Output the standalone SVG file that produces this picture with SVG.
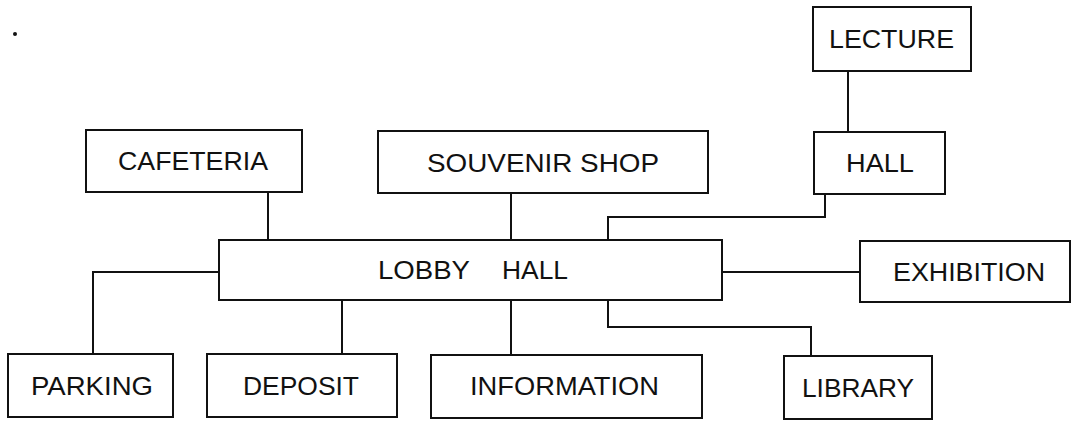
<svg xmlns="http://www.w3.org/2000/svg" width="1072" height="423" viewBox="0 0 1072 423">
  <style>
    .box { fill: #ffffff; stroke: #111111; stroke-width: 2; }
    .lbl { font-family: "Liberation Sans", Arial, sans-serif; font-size: 26px; fill: #111111; text-anchor: middle; }
    .wire { fill: none; stroke: #111111; stroke-width: 2; }
  </style>
  <rect width="1072" height="423" fill="#ffffff"/>
  <circle cx="15" cy="34" r="2" fill="#111111"/>

  <!-- connectors -->
  <g id="connectors">
    <path class="wire" d="M268 192 V240"/>
    <path class="wire" d="M511 193 V240"/>
    <path class="wire" d="M848 71 V132"/>
    <path class="wire" d="M825 194 V217 H608 V240"/>
    <path class="wire" d="M219 272 H93 V354"/>
    <path class="wire" d="M342 300 V354"/>
    <path class="wire" d="M511 300 V355"/>
    <path class="wire" d="M608 300 V327 H811 V356"/>
    <path class="wire" d="M722 272 H860"/>
  </g>

  <g id="lecture">
    <rect class="box" x="813" y="7" width="158" height="64"/>
    <text class="lbl" x="891.5" y="48" textLength="125" lengthAdjust="spacingAndGlyphs">LECTURE</text>
  </g>
  <g id="cafeteria">
    <rect class="box" x="86" y="130" width="216" height="62"/>
    <text class="lbl" x="193" y="170" textLength="150" lengthAdjust="spacingAndGlyphs">CAFETERIA</text>
  </g>
  <g id="souvenir-shop">
    <rect class="box" x="378" y="131" width="330" height="62"/>
    <text class="lbl" x="543" y="172" textLength="232" lengthAdjust="spacingAndGlyphs">SOUVENIR  SHOP</text>
  </g>
  <g id="hall">
    <rect class="box" x="814" y="132" width="131" height="62"/>
    <text class="lbl" x="880" y="172" textLength="68" lengthAdjust="spacingAndGlyphs">HALL</text>
  </g>
  <g id="lobby-hall">
    <rect class="box" x="219" y="240" width="503" height="60"/>
    <text class="lbl" y="279"><tspan x="424" textLength="92" lengthAdjust="spacingAndGlyphs">LOBBY</tspan><tspan x="535" textLength="66" lengthAdjust="spacingAndGlyphs">HALL</tspan></text>
  </g>
  <g id="exhibition">
    <rect class="box" x="860" y="241" width="210" height="61"/>
    <text class="lbl" x="969" y="281" textLength="152" lengthAdjust="spacingAndGlyphs">EXHIBITION</text>
  </g>
  <g id="parking">
    <rect class="box" x="8" y="354" width="165" height="63"/>
    <text class="lbl" x="92" y="395" textLength="122" lengthAdjust="spacingAndGlyphs">PARKING</text>
  </g>
  <g id="deposit">
    <rect class="box" x="207" y="354" width="190" height="63"/>
    <text class="lbl" x="301" y="395" textLength="116" lengthAdjust="spacingAndGlyphs">DEPOSIT</text>
  </g>
  <g id="information">
    <rect class="box" x="431" y="355" width="271" height="63"/>
    <text class="lbl" x="564.5" y="395" textLength="189" lengthAdjust="spacingAndGlyphs">INFORMATION</text>
  </g>
  <g id="library">
    <rect class="box" x="784" y="356" width="148" height="63"/>
    <text class="lbl" x="858" y="397" textLength="112" lengthAdjust="spacingAndGlyphs">LIBRARY</text>
  </g>
</svg>
